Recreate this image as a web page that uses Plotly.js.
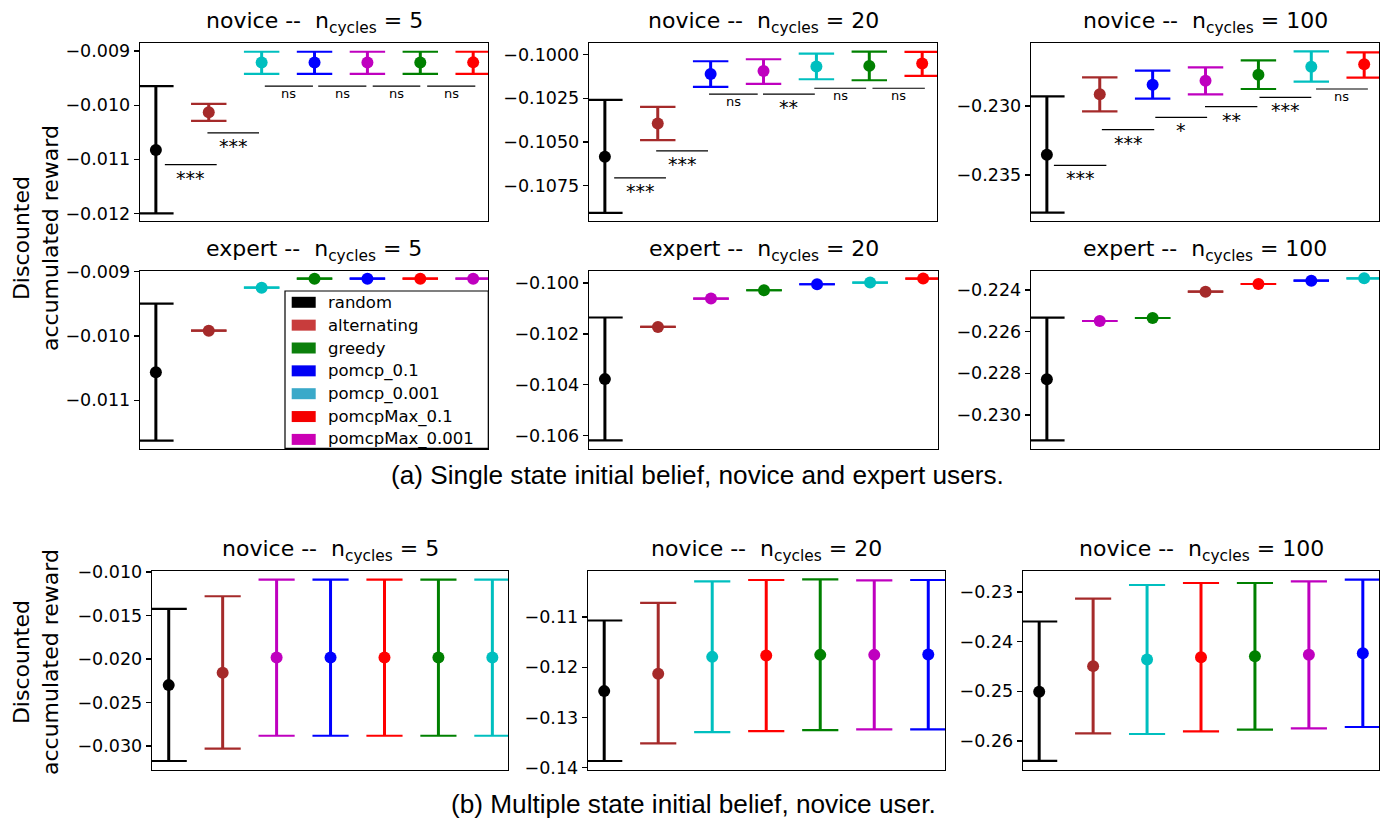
<!DOCTYPE html>
<html><head><meta charset="utf-8">
<script src="https://cdn.plot.ly/plotly-3.0.1.min.js"></script>
<style>body{margin:0;background:#fff}#chart{width:1387px;height:819px}</style>
</head><body><div id="chart"></div>
<script>
// ---------- data ----------
const methods = ['random','alternating','greedy','pomcp_0.1','pomcp_0.001','pomcpMax_0.1','pomcpMax_0.001'];

// (a) single state, novice, n_cycles = 5
const novice5Order = ['random','alternating','pomcp_0.001','pomcp_0.1','pomcpMax_0.001','greedy','pomcpMax_0.1'];
const novice5Mean = [-0.010828,-0.01013,-0.009212,-0.009211,-0.00921,-0.009209,-0.009208];
const novice5Hi   = [-0.009648,-0.009976,-0.009012,-0.009012,-0.009012,-0.009012,-0.009012];
const novice5Lo   = [-0.012,-0.01029,-0.00942,-0.00942,-0.00942,-0.00942,-0.00942];
const novice5SigLabel = ['***','***','ns','ns','ns','ns'];
const novice5SigLevel = [-0.011098,-0.010513,-0.009648,-0.009648,-0.009648,-0.009648];
const novice5SigFrom  = [0.17,0.975,2.06,3.07,4.1,5.13];
const novice5SigTo    = [1.15,1.95,2.97,3.98,5.0,6.04];

// (a) single state, novice, n_cycles = 20
const novice20Order = ['random','alternating','pomcp_0.1','pomcpMax_0.001','pomcp_0.001','greedy','pomcpMax_0.1'];
const novice20Mean = [-0.105845,-0.103938,-0.101107,-0.100934,-0.100685,-0.100647,-0.100514];
const novice20Hi   = [-0.102591,-0.102991,-0.100382,-0.100268,-0.099943,-0.099829,-0.099848];
const novice20Lo   = [-0.109041,-0.104892,-0.101849,-0.101678,-0.10141,-0.101467,-0.101221];
const novice20SigLabel = ['***','***','ns','**','ns','ns'];
const novice20SigLevel = [-0.107043,-0.105502,-0.102266,-0.102266,-0.101924,-0.101924];
const novice20SigFrom  = [0.176,0.97,1.97,2.99,3.96,5.06];
const novice20SigTo    = [1.155,1.95,2.89,3.97,4.94,6.05];

// (a) single state, novice, n_cycles = 100
const novice100Order = ['random','alternating','pomcp_0.1','pomcpMax_0.001','greedy','pomcp_0.001','pomcpMax_0.1'];
const novice100Mean = [-0.233529,-0.229152,-0.228457,-0.228167,-0.227732,-0.227152,-0.226978];
const novice100Hi   = [-0.229297,-0.22792,-0.227442,-0.227196,-0.226688,-0.226036,-0.226109];
const novice100Lo   = [-0.237729,-0.230386,-0.229471,-0.229152,-0.228768,-0.228237,-0.227949];
const novice100SigLabel = ['***','***','*','**','***','ns'];
const novice100SigLevel = [-0.234297,-0.231717,-0.230821,-0.230048,-0.229372,-0.228768];
const novice100SigFrom  = [0.133,1.04,2.05,2.99,4.02,5.09];
const novice100SigTo    = [1.125,2.03,3.03,3.98,5.0,6.07];

// (a) single state, expert
const expert5Order = ['random','alternating','pomcp_0.001','greedy','pomcp_0.1','pomcpMax_0.1','pomcpMax_0.001'];
const expert5Mean = [-0.010566,-0.009918,-0.009249,-0.009109,-0.009109,-0.009109,-0.009109];
const expert5Hi   = [-0.009498,-0.009918,-0.009249,-0.009109,-0.009109,-0.009109,-0.009109];
const expert5Lo   = [-0.011628,-0.009918,-0.009249,-0.009109,-0.009109,-0.009109,-0.009109];

const expert20Order = ['random','alternating','pomcpMax_0.001','greedy','pomcp_0.1','pomcp_0.001','pomcpMax_0.1'];
const expert20Mean = [-0.103776,-0.101725,-0.100612,-0.100286,-0.100051,-0.099984,-0.099827];
const expert20Hi   = [-0.101357,-0.101725,-0.100612,-0.100286,-0.100051,-0.099984,-0.099827];
const expert20Lo   = [-0.10618,-0.101725,-0.100612,-0.100286,-0.100051,-0.099984,-0.099827];

const expert100Order = ['random','pomcpMax_0.001','greedy','alternating','pomcpMax_0.1','pomcp_0.1','pomcp_0.001'];
const expert100Mean = [-0.228288,-0.225488,-0.225344,-0.22408,-0.223712,-0.223552,-0.22344];
const expert100Hi   = [-0.225328,-0.225488,-0.225344,-0.22408,-0.223712,-0.223552,-0.22344];
const expert100Lo   = [-0.231216,-0.225488,-0.225344,-0.22408,-0.223712,-0.223552,-0.22344];

// (b) multiple state, novice
const multi5Order = ['random','alternating','pomcpMax_0.001','pomcp_0.1','pomcpMax_0.1','greedy','pomcp_0.001'];
const multi5Mean = [-0.023,-0.021588,-0.019821,-0.019821,-0.019821,-0.019821,-0.019821];
const multi5Hi   = [-0.014245,-0.012788,-0.010872,-0.010872,-0.010872,-0.010872,-0.010872];
const multi5Lo   = [-0.031719,-0.030308,-0.028816,-0.028816,-0.028816,-0.028816,-0.028816];

const multi20Order = ['random','alternating','pomcp_0.001','pomcpMax_0.1','greedy','pomcpMax_0.001','pomcp_0.1'];
const multi20Mean = [-0.124763,-0.121325,-0.117948,-0.11767,-0.11755,-0.11755,-0.117471];
const multi20Hi   = [-0.110715,-0.107218,-0.102907,-0.102648,-0.102509,-0.102708,-0.102648];
const multi20Lo   = [-0.138671,-0.135155,-0.132909,-0.13271,-0.132512,-0.132374,-0.132374];

const multi100Order = ['random','alternating','pomcp_0.001','pomcpMax_0.1','greedy','pomcpMax_0.001','pomcp_0.1'];
const multi100Mean = [-0.25008,-0.24492,-0.243574,-0.243112,-0.242912,-0.242651,-0.242309];
const multi100Hi   = [-0.235944,-0.231325,-0.228594,-0.228193,-0.228193,-0.227851,-0.22751];
const multi100Lo   = [-0.263996,-0.258434,-0.258574,-0.258032,-0.257711,-0.25743,-0.257169];

// ---------- styles ----------
const markColor = {'random':'#000000','alternating':'#a52a2a','greedy':'#008000','pomcp_0.1':'#0000ff',
  'pomcp_0.001':'#00bfbf','pomcpMax_0.1':'#ff0000','pomcpMax_0.001':'#bf00bf'};
const legendColor = {'random':'#000000','alternating':'#c83c3c','greedy':'#0b7f0b','pomcp_0.1':'#0000f5',
  'pomcp_0.001':'#3aa9c9','pomcpMax_0.1':'#f50000','pomcpMax_0.001':'#cb00b4'};

const W = 1387, H = 819;
const FONT = 'DejaVu Sans, Verdana, sans-serif';
const CAPFONT = 'Liberation Sans, Arial, sans-serif';
const CAP = 0.335;

const panels = [
  {t:'novice -- n<sub>cycles</sub> = 5', o:novice5Order, m:novice5Mean, lo:novice5Lo, hi:novice5Hi,
   sig:[novice5SigFrom,novice5SigTo,novice5SigLevel,novice5SigLabel], box:[140,488,43,221], yr:[-0.01214,-0.00885], dt:0.001, f:'.3f', xr:[-0.3,6.28]},
  {t:'novice -- n<sub>cycles</sub> = 20', o:novice20Order, m:novice20Mean, lo:novice20Lo, hi:novice20Hi,
   sig:[novice20SigFrom,novice20SigTo,novice20SigLevel,novice20SigLabel], box:[589,937,43,221], yr:[-0.10951,-0.09934], dt:0.0025, f:'.4f', xr:[-0.3,6.28]},
  {t:'novice -- n<sub>cycles</sub> = 100', o:novice100Order, m:novice100Mean, lo:novice100Lo, hi:novice100Hi,
   sig:[novice100SigFrom,novice100SigTo,novice100SigLevel,novice100SigLabel], box:[1031,1379,43,221], yr:[-0.238333,-0.225435], dt:0.005, f:'.3f', xr:[-0.3,6.28]},
  {t:'expert -- n<sub>cycles</sub> = 5', o:expert5Order, m:expert5Mean, lo:expert5Lo, hi:expert5Hi,
   box:[140,488,271,448.5], yr:[-0.011751,-0.00899], dt:0.001, f:'.3f', xr:[-0.3,6.28]},
  {t:'expert -- n<sub>cycles</sub> = 20', o:expert20Order, m:expert20Mean, lo:expert20Lo, hi:expert20Hi,
   box:[589,938,271,449], yr:[-0.10652,-0.09953], dt:0.002, f:'.3f', xr:[-0.3,6.28]},
  {t:'expert -- n<sub>cycles</sub> = 100', o:expert100Order, m:expert100Mean, lo:expert100Lo, hi:expert100Hi,
   box:[1031,1379,271,449], yr:[-0.231632,-0.223088], dt:0.002, f:'.3f', xr:[-0.3,6.28]},
  {t:'novice -- n<sub>cycles</sub> = 5', o:multi5Order, m:multi5Mean, lo:multi5Lo, hi:multi5Hi,
   box:[152,508,571,770], yr:[-0.032754,-0.009885], dt:0.005, f:'.3f', xr:[-0.31,6.29]},
  {t:'novice -- n<sub>cycles</sub> = 20', o:multi20Order, m:multi20Mean, lo:multi20Lo, hi:multi20Hi,
   box:[588,945,571,770], yr:[-0.14046,-0.10086], dt:0.01, f:'.2f', xr:[-0.3,6.31]},
  {t:'novice -- n<sub>cycles</sub> = 100', o:multi100Order, m:multi100Mean, lo:multi100Lo, hi:multi100Hi,
   box:[1023,1379,571,770], yr:[-0.26582,-0.22578], dt:0.01, f:'.2f', xr:[-0.3,6.3]}
];

const traces = [], shapes = [], annotations = [];
const layout = {
  width: W, height: H, margin:{l:0,r:0,t:0,b:0}, paper_bgcolor:'#fff', plot_bgcolor:'#fff',
  showlegend:false, font:{family:FONT, color:'#000'}
};

panels.forEach((p, k) => {
  const n = k + 1;
  const xa = 'x' + (n === 1 ? '' : n), ya = 'y' + (n === 1 ? '' : n);
  const xk = 'xaxis' + (n === 1 ? '' : n), yk = 'yaxis' + (n === 1 ? '' : n);
  const [x0, x1, y0, y1] = p.box;
  layout[xk] = {domain:[x0/W, x1/W], range:p.xr, anchor:ya, showticklabels:false, ticks:'',
    showgrid:false, zeroline:false, showline:true, mirror:true, linecolor:'#000', linewidth:1.3, fixedrange:true};
  layout[yk] = {domain:[1 - y1/H, 1 - y0/H], range:p.yr, anchor:xa, tick0:0, dtick:p.dt, tickformat:p.f,
    ticks:'outside', ticklen:5, tickwidth:1.3, tickcolor:'#000', showgrid:false, zeroline:false,
    showline:true, mirror:true, linecolor:'#000', linewidth:1.3, fixedrange:true,
    tickfont:{family:FONT, size:17.5, color:'#000'}};

  p.o.forEach((name, i) => {
    const c = markColor[name];
    traces.push({x:[i, i], y:[p.lo[i], p.hi[i]], xaxis:xa, yaxis:ya, mode:'lines',
      line:{color:c, width:3}, hoverinfo:'skip'});
    traces.push({x:[i - CAP, i + CAP, null, i - CAP, i + CAP], y:[p.lo[i], p.lo[i], null, p.hi[i], p.hi[i]],
      xaxis:xa, yaxis:ya, mode:'lines', line:{color:c, width:2.2}, hoverinfo:'skip'});
  });
  traces.push({x:p.o.map((_, i) => i), y:p.m, xaxis:xa, yaxis:ya, mode:'markers',
    marker:{size:12, color:p.o.map(nm => markColor[nm])}, text:p.o, hoverinfo:'text+y'});

  if (p.sig) {
    const [from, to, level, label] = p.sig;
    label.forEach((lab, j) => {
      shapes.push({type:'line', xref:xa, yref:ya, x0:from[j], x1:to[j], y0:level[j], y1:level[j],
        line:{color:'#000', width:1.2}, layer:'above'});
      const star = lab !== 'ns';
      annotations.push({xref:xa, yref:ya, x:(from[j] + to[j]) / 2, y:level[j], text:lab, showarrow:false,
        xanchor:'center', yanchor:'top', yshift: star ? 0 : 2,
        font:{family:FONT, size: star ? 19 : 13, color:'#000'}});
    });
  }

  annotations.push({xref:'paper', yref:'paper', x:(x0 + x1) / 2 / W, y:1 - (y0 - 4) / H,
    text:p.t.replace('-- n', '--&nbsp; n'),
    showarrow:false, xanchor:'center', yanchor:'bottom', font:{family:FONT, size:22, color:'#000'}});
});

// legend inside the expert n=5 panel
const lx0 = 285, lx1 = 488.3, ly0 = 291, ly1 = 448.3;
shapes.push({type:'rect', xref:'paper', yref:'paper', x0:lx0/W, x1:lx1/W, y0:1 - ly1/H, y1:1 - ly0/H,
  fillcolor:'#fff', line:{color:'#000', width:1.2}, layer:'above'});
methods.forEach((name, i) => {
  const cy = 302.3 + i * 22.85;
  shapes.push({type:'rect', xref:'paper', yref:'paper', x0:291.7/W, x1:315.7/W, y0:1 - (cy + 5.5)/H, y1:1 - (cy - 5.5)/H,
    fillcolor:legendColor[name], line:{width:0}, layer:'above'});
  annotations.push({xref:'paper', yref:'paper', x:326/W, y:1 - cy/H, text:name, showarrow:false,
    xanchor:'left', yanchor:'middle', font:{family:FONT, size:16.5, color:'#000'}});
});

// shared y labels
[238, 662].forEach(cy => {
  annotations.push({xref:'paper', yref:'paper', x:36/W, y:1 - cy/H, text:'Discounted<br>accumulated reward',
    textangle:-90, showarrow:false, xanchor:'center', yanchor:'middle', align:'center',
    font:{family:FONT, size:22, color:'#000'}});
});

// captions
annotations.push({xref:'paper', yref:'paper', x:697/W, y:1 - 475/H, text:'(a) Single state initial belief, novice and expert users.',
  showarrow:false, xanchor:'center', yanchor:'middle', font:{family:CAPFONT, size:26.2, color:'#000'}});
annotations.push({xref:'paper', yref:'paper', x:693.5/W, y:1 - 804/H, text:'(b) Multiple state initial belief, novice user.',
  showarrow:false, xanchor:'center', yanchor:'middle', font:{family:CAPFONT, size:26.2, color:'#000'}});

layout.shapes = shapes;
layout.annotations = annotations;
Plotly.newPlot('chart', traces, layout, {displayModeBar:false, staticPlot:true});
</script>
</body></html>
